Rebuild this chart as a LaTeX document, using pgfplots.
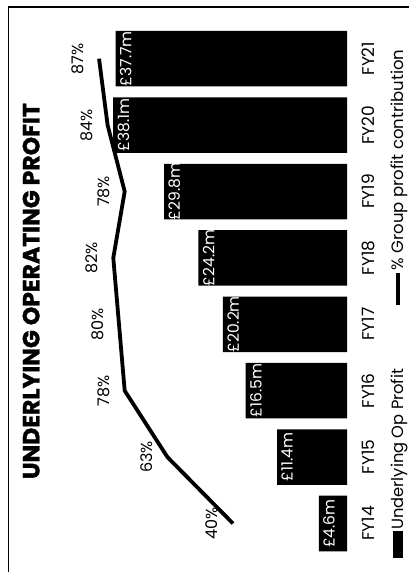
\documentclass[border=0pt]{standalone}
\usepackage{graphicx}
\usepackage{fontspec}
\setmainfont{Poppins}
\newfontfamily\titlefont{Poppins}[BoldFeatures={FakeBold=1.3}]
\usepackage{pgfplots}
\usepackage{pgfplotstable}
\pgfplotsset{compat=1.18}

\pgfplotstableread{
x y label
0 4.6 £4.6m
1 11.4 £11.4m
2 16.5 £16.5m
3 20.2 £20.2m
4 24.2 £24.2m
5 29.8 £29.8m
6 38.1 £38.1m
7 37.7 £37.7m
}\bardata

\pgfplotstableread{
x p label
0 40 40\%
1 63 63\%
2 78 78\%
3 80 80\%
4 82 82\%
5 78 78\%
6 84 84\%
7 87 87\%
}\pctdata

\begin{document}
\rotatebox{90}{%
\begin{tikzpicture}
\path[use as bounding box] (0pt,0pt) rectangle (572pt,409pt);
\draw[line width=1.8pt] (0pt,400.5pt) -- (565pt,400.5pt) -- (565pt,0pt);
\begin{axis}[
 at={(15.3pt,62pt)}, anchor=south west,
 scale only axis, width=531.2pt, height=287.85pt,
 xmin=-0.5, xmax=7.5, ymin=0, ymax=46.88,
 axis line style={draw=none},
 major tick length=0pt,
 ytick=\empty,
 xtick={0,...,7},
 xticklabels={FY14,FY15,FY16,FY17,FY18,FY19,FY20,FY21},
 xticklabel style={anchor=center, yshift=-21pt, font=\fontsize{17}{17}\selectfont},
 title={UNDERLYING OPERATING PROFIT},
 title style={at={(0.5,1)}, anchor=center, yshift=22pt, font=\titlefont\bfseries\fontsize{23.5}{23.5}\selectfont},
 ybar, bar width=55.5pt, bar shift=0pt,
 nodes near coords, point meta=explicit symbolic,
 every node near coord/.append style={anchor=north, text=white, yshift=-1pt, font=\fontsize{15.5}{15.5}\selectfont},
 clip=false,
 legend style={at={(-0.0024,-0.1772)}, anchor=west, draw=none, fill=none, font=\fontsize{16.3}{16.3}\selectfont, inner sep=0pt, nodes={inner sep=1pt}},
 legend image code/.code={\fill[black] (0pt,-5pt) rectangle (27pt,5pt);},
]
\addplot[fill=black, draw=none] table[x=x, y=y, meta=label]{\bardata};
\addlegendentry{Underlying Op Profit}
\end{axis}
\begin{axis}[
 at={(15.3pt,62pt)}, anchor=south west,
 scale only axis, width=531.2pt, height=287.85pt,
 xmin=-0.5, xmax=7.5, ymin=0, ymax=101,
 hide axis,
 clip=false,
 legend style={at={(0.470,-0.1772)}, anchor=west, draw=none, fill=none, font=\fontsize{16.5}{16.5}\selectfont, inner sep=0pt, nodes={inner sep=1pt}},
 legend image code/.code={\draw[line width=3.6pt] (0pt,0pt) -- (32pt,0pt);},
]
\addplot[black, line width=3.8pt, nodes near coords, point meta=explicit symbolic,
 every node near coord/.append style={anchor=south, yshift=10pt, font=\fontsize{16}{16}\selectfont}] table[x=x, y=p, meta=label]{\pctdata};
\addlegendentry{\% Group profit contribution}
\end{axis}
\end{tikzpicture}%
}
\end{document}
